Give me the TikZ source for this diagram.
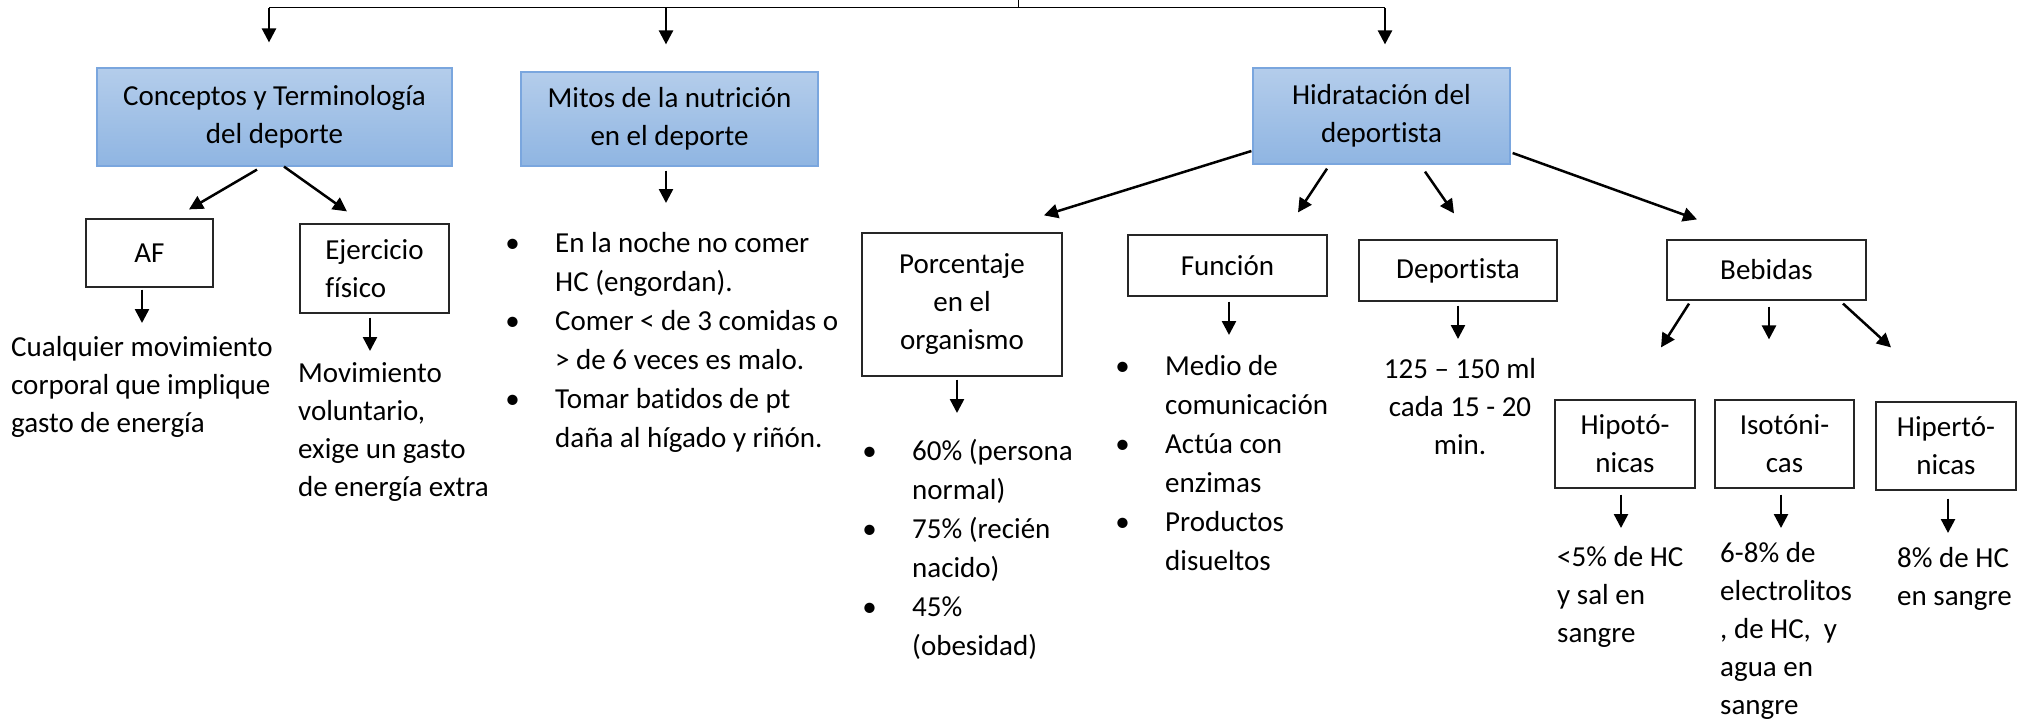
\documentclass[tikz,border=0pt]{standalone}
\usepackage{fontspec}
\setmainfont{Carlito}[Ligatures=NoCommon]
\usepackage{tikz}
\usetikzlibrary{arrows.meta,calc}
\definecolor{azulsup}{RGB}{180,205,235}
\definecolor{azulinf}{RGB}{143,181,226}
\definecolor{azulborde}{RGB}{122,166,222}
\newcommand{\vin}{\llap{\makebox[85pt][c]{•}}}

\begin{document}
\begin{tikzpicture}[x=1pt,y=-1pt,
            every node/.style={font=\fontsize{29}{38}\selectfont},
            tema/.style={draw=azulborde,line width=1.2pt,top color=azulsup,
                bottom color=azulinf,align=center,inner sep=0pt},
            caja/.style={draw=black!85,line width=1.2pt,fill=white,align=center,
                inner sep=0pt},
            texto/.style={anchor=north west,align=left,inner sep=0pt},
            lista/.style={texto,font=\fontsize{29}{39}\selectfont},
            flecha/.style={line width=2.5pt,-{Triangle[length=14pt,width=14pt]}},
            linea/.style={line width=1pt}]
    \useasboundingbox (0,0) rectangle (2028,725);

    % temas
    \node[tema,minimum width=355pt,minimum height=98pt] (concep) at (274.5,117)
        {Conceptos y Terminología\\del deporte};
    \node[tema,minimum width=297pt,minimum height=94pt] (mitos) at (669.5,119)
        {Mitos de la nutrición\\en el deporte};
    \node[tema,minimum width=257pt,minimum height=96pt] (hidra) at (1381.5,116)
        {Hidratación del\\deportista};

    \coordinate (raiz) at (1018,0);
    \coordinate (tl) at (269,8);
    \coordinate (tm) at (666,8);
    \coordinate (tr) at (1385,8);
    \draw[linea] (tl) -- (tr);
    \draw[linea] (raiz) -- (raiz |- tl);
    \draw[flecha] (tl) -- ($(concep.north)+(-5.5,-25)$);
    \draw[flecha] (tm) -- ($(mitos.north)+(-3.5,-27)$);
    \draw[flecha] (tr) -- ($(hidra.north)+(3.5,-23)$);

    % conceptos
    \node[caja,minimum width=127pt,minimum height=68pt] (af) at (149.5,253) {AF};
    \node[caja,align=left,minimum width=149pt,minimum height=89pt] (ejer) at (374.5,268.5)
        {Ejercicio\\físico};
    \node[texto] (cualq) at (11,330)
        {\strut Cualquier movimiento\\corporal que implique\\gasto de energía};
    \node[texto] (movim) at (298,356)
        {\strut Movimiento\\voluntario,\\exige un gasto\\de energía extra};
    \draw[flecha] ($(concep.south)+(-17.5,3)$) -- ($(af.north)+(39.5,-9)$);
    \draw[flecha] ($(concep.south)+(9.5,0)$) -- ($(ejer.north)+(-27.5,-12)$);
    \draw[flecha] ($(af.south)+(-7.5,2)$) -- ($(cualq.north west)+(131,-7)$);
    \draw[flecha] ($(ejer.south)+(-4.5,4)$) -- ($(movim.north west)+(72,-5)$);

    % mitos
    \node[lista] (mitoslst) at (555,225)
        {\strut\vin En la noche no comer\\HC (engordan).\\\vin Comer < de 3 comidas o\\> de 6 veces es malo.\\\vin Tomar batidos de pt\\daña al hígado y riñón.};
    \draw[flecha] ($(mitos.south)+(-3.5,4)$) -- ($(mitoslst.north west)+(111,-22)$);

    % hidratacion
    \node[caja,minimum width=200pt,minimum height=143pt] (porc) at (962,304.5)
        {Porcentaje\\en el\\organismo};
    \node[caja,minimum width=199pt,minimum height=61pt] (func) at (1227.5,265.5) {Función};
    \node[caja,minimum width=198pt,minimum height=61pt] (depor) at (1458,270.5) {Deportista};
    \node[caja,minimum width=199pt,minimum height=60pt] (bebid) at (1766.5,270) {Bebidas};
    \draw[flecha] ($(hidra.west)+(-1,35)$) -- ($(porc.north)+(82,-17)$);
    \draw[flecha] ($(hidra.south)+(-54.5,4)$) -- ($(func.north)+(70.5,-22)$);
    \draw[flecha] ($(hidra.south)+(43.5,7)$) -- ($(depor.north)+(-4,-26)$);
    \draw[flecha] ($(hidra.east)+(2,37)$) -- ($(bebid.north)+(-69.5,-20)$);

    \node[lista] (porclst) at (912,433)
        {\strut\vin 60\% (persona\\normal)\\\vin 75\% (recién\\nacido)\\\vin 45\%\\(obesidad)};
    \node[lista] (funclst) at (1165,348)
        {\strut\vin Medio de\\comunicación\\\vin Actúa con\\enzimas\\\vin Productos\\disueltos};
    \node[anchor=north,align=center,inner sep=0pt] (deporlst) at (1460,352)
        {\strut 125 – 150 ml\\cada 15 - 20\\min.};
    \draw[flecha] ($(porc.south)+(-5,3)$) -- ($(porclst.north west)+(45,-20)$);
    \draw[flecha] ($(func.south)+(1.5,5)$) -- ($(funclst.north west)+(64,-13)$);
    \draw[flecha] ($(depor.south)+(0,4)$) -- ($(deporlst.north)+(-2,-13)$);

    % bebidas
    \node[caja,minimum width=140pt,minimum height=88pt] (hipo) at (1625,444) {Hipotó-\\nicas};
    \node[caja,minimum width=139pt,minimum height=88pt] (iso) at (1784.5,444) {Isotóni-\\cas};
    \node[caja,minimum width=140pt,minimum height=88pt] (hiper) at (1946,446) {Hipertó-\\nicas};
    \draw[flecha] ($(bebid.south)+(-77.5,3)$) -- ($(hipo.north)+(36,-52)$);
    \draw[flecha] ($(bebid.south)+(2.5,6)$) -- ($(iso.north)+(-15.5,-60)$);
    \draw[flecha] ($(bebid.south)+(76.5,3)$) -- ($(hiper.north)+(-55,-54)$);

    \node[texto] (hipotxt) at (1557,540) {\strut <5\% de HC\\y sal en\\sangre};
    \node[texto] (isotxt) at (1720,536) {\strut 6-8\% de\\electrolitos\\, de HC,~ y\\agua en\\sangre};
    \node[texto] (hipertxt) at (1897,541) {\strut 8\% de HC\\en sangre};
    \draw[flecha] ($(hipo.south)+(-4,6)$) -- ($(hipotxt.north west)+(64,-12)$);
    \draw[flecha] ($(iso.south)+(-3.5,6)$) -- ($(isotxt.north west)+(61,-8)$);
    \draw[flecha] ($(hiper.south)+(2,8)$) -- ($(hipertxt.north west)+(51,-8)$);
\end{tikzpicture}
\end{document}
